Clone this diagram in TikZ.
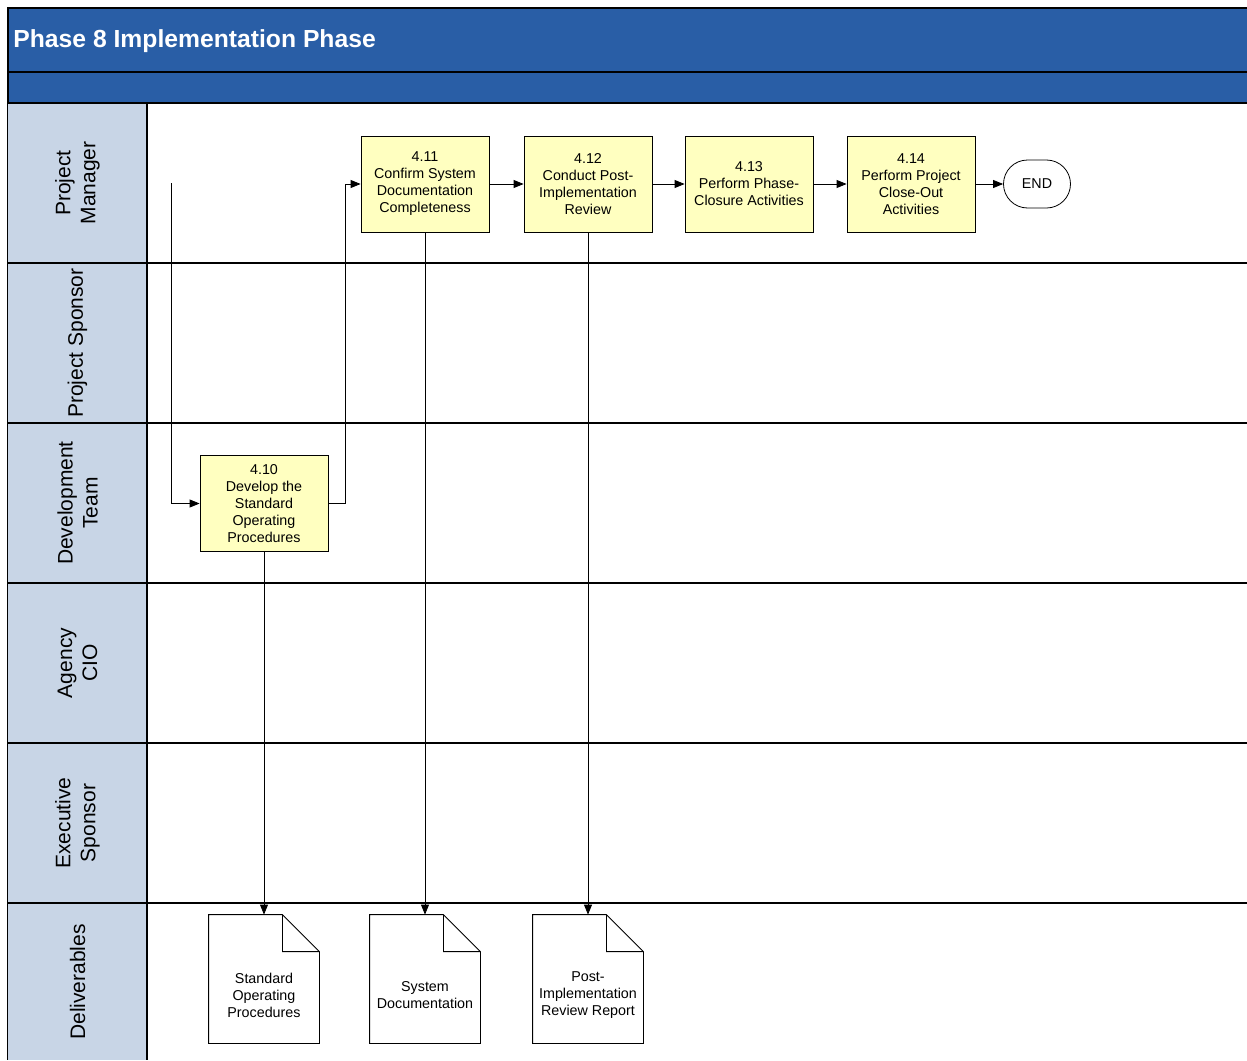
\documentclass[tikz,border=0pt]{standalone}
\usepackage{fontspec}
\setmainfont{Liberation Sans}
\usetikzlibrary{arrows.meta,positioning,calc}
\definecolor{hdrblue}{HTML}{295EA6}
\definecolor{lanegray}{HTML}{C8D5E6}
\definecolor{taskyellow}{HTML}{FFFFC0}

\begin{document}
\begin{tikzpicture}
 [x=1pt,y=-1pt,>={Triangle[length=10pt,width=8pt]},line width=0.8pt,
 task/.style={draw,fill=taskyellow,minimum width=128pt,minimum height=96pt,
 inner sep=2pt,align=center,font=\fontsize{14.3}{17}\selectfont},
 doc/.style={minimum width=110pt,minimum height=128pt,inner sep=0pt},
 doctext/.style={align=center,font=\fontsize{14.3}{17}\selectfont,yshift=-16pt},
 lanelabel/.style={rotate=90,align=center,font=\fontsize{21}{25}\selectfont},
 divider/.style={line width=1.2pt}]
\useasboundingbox (0,0) rectangle (1247,1060);

% title band
\fill[hdrblue] (8,8) rectangle (1247,103);
\draw[divider] (1247,8) -- (8,8) -- (8,1060);
\draw[divider] (8,72) -- (1247,72);
\node (title) at (13,47.5) [anchor=base west,inner sep=0pt,text=white,
 font=\fontsize{24.7}{28}\selectfont\bfseries] {Phase 8 Implementation Phase};

% lanes
\fill[lanegray] (8,103) rectangle (147,1060);
\foreach \y in {103,263,423,583,743,903}
 \draw[divider] (8,\y) -- (1247,\y);
\draw[divider] (147,103) -- (147,1060);

\node (pm) at (77.5,183) [lanelabel] {Project\\Manager};
\node (ps) at (77.5,343) [lanelabel] {Project Sponsor};
\node (dt) at (77.5,503) [lanelabel] {Development\\Team};
\node (cio) at (77.5,663) [lanelabel] {Agency\\CIO};
\node (es) at (77.5,823) [lanelabel] {Executive\\Sponsor};
\node (dl) at (77.5,982) [lanelabel] {Deliverables};

% tasks
\node (t410) at (264,503.5) [task] {4.10\\Develop the\\Standard\\Operating\\Procedures};
\node (t411) at (425,184) [task] {4.11\\Confirm System\\Documentation\\Completeness};
\node (t412) at (588,184) [task] {4.12\\Conduct Post-\\Implementation\\Review};
\node (t413) at (749,184) [task] {4.13\\Perform Phase-\\Closure Activities};
\node (t414) at (911,184) [task] {4.14\\Perform Project\\Close-Out\\Activities};
\node (stop) at (1037,184) [draw,rounded corners=24pt,minimum width=67pt,
 minimum height=48pt,font=\fontsize{14.3}{17}\selectfont] {END};

% deliverables
\node (d1) at (264,979) [doc,label={[doctext]center:{Standard\\Operating\\Procedures}}] {};
\node (d2) at (425,979) [doc,label={[doctext]center:{System\\Documentation}}] {};
\node (d3) at (588,979) [doc,label={[doctext]center:{Post-\\Implementation\\Review Report}}] {};
\foreach \d in {d1,d2,d3}
 \draw (\d.north west) -- ([xshift=-37pt]\d.north east) -- ([yshift=-37pt]\d.north east)
  -- (\d.south east) -- (\d.south west) -- cycle
  ([xshift=-37pt]\d.north east) |- ([yshift=-37pt]\d.north east);

% flow
\coordinate (in) at (171,183);
\draw[->] (in) |- (t410);
\draw[->] (t410.east) -- ++(17,0) |- (t411);
\draw[->] (t411) edge (t412) (t412) edge (t413) (t413) edge (t414) (t414) edge (stop);
\draw[->] (t410) -- (d1);
\draw[->] (t411) -- (d2);
\draw[->] (t412) -- (d3);
\end{tikzpicture}
\end{document}
